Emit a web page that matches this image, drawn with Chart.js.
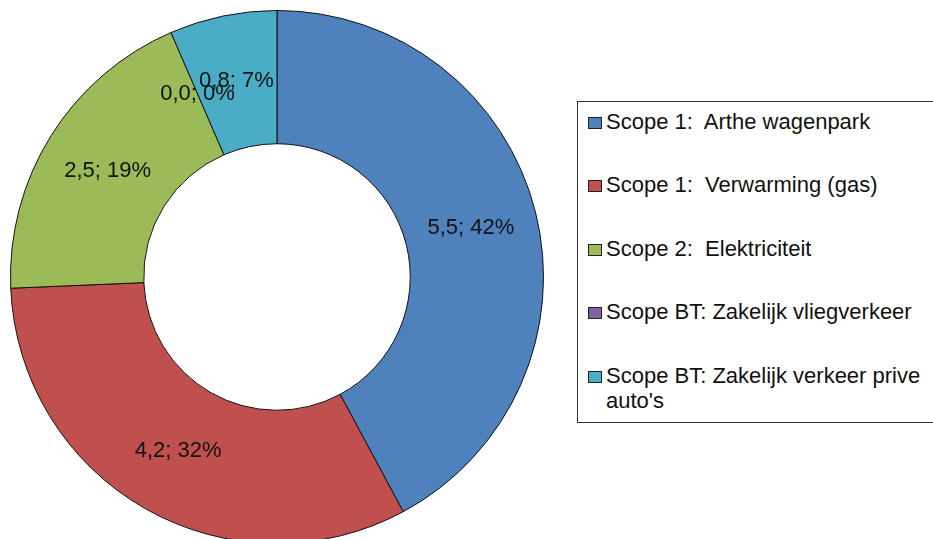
<!DOCTYPE html>
<html>
<head>
<meta charset="utf-8">
<script src="https://cdn.jsdelivr.net/npm/chart.js@4/dist/chart.umd.min.js"></script>
<style>
    body { margin: 0; background: #fff; overflow: hidden; width: 933px; height: 539px; position: relative; }
    #chartWrap { position: absolute; left: 0; top: 0; width: 554px; height: 554px; }
    #legend {
        position: absolute; left: 577px; top: 101px; width: 370px; height: 322px;
        border: 1px solid #333; box-sizing: border-box;
        font-family: 'Liberation Sans', Arial, sans-serif; font-size: 22px; color: #111;
    }
    .item { position: absolute; left: 9px; line-height: 25px; width: 345px; }
    .box { position: absolute; left: 1px; top: 8px; width: 12px; height: 10px; border: 1px solid #222; }
    .txt { margin-left: 19px; white-space: pre; }
</style>
</head>
<body>
<div id="chartWrap"><canvas id="emissionChart" width="554" height="554"></canvas></div>
<div id="legend"></div>
<script>
const categories = [
    'Scope 1:  Arthe wagenpark',
    'Scope 1:  Verwarming (gas)',
    'Scope 2:  Elektriciteit',
    'Scope BT: Zakelijk vliegverkeer',
    'Scope BT: Zakelijk verkeer prive\nauto\'s'
];
const values = [5.5, 4.2, 2.5, 0.0, 0.85];
const percents = [42, 32, 19, 0, 7];
const colors = ['#4F81BD', '#C0504D', '#9BBB59', '#8064A2', '#4BACC6'];

// labels in the middle of the ring, like "5,5; 42%"
const sliceLabels = {
    id: 'sliceLabels',
    afterDatasetsDraw(chart) {
        const ctx = chart.ctx;
        const meta = chart.getDatasetMeta(0);
        ctx.save();
        ctx.font = '22px "Liberation Sans", Arial, sans-serif';
        ctx.fillStyle = '#111';
        ctx.textAlign = 'center';
        ctx.textBaseline = 'middle';
        meta.data.forEach((arc, i) => {
            const p = arc.getProps(['x', 'y', 'startAngle', 'endAngle', 'innerRadius', 'outerRadius'], true);
            const mid = (p.startAngle + p.endAngle) / 2;
            const r = (p.innerRadius + p.outerRadius) / 2;
            const text = values[i].toFixed(1).replace('.', ',') + '; ' + percents[i] + '%';
            ctx.fillText(text, p.x + Math.cos(mid) * r, p.y + Math.sin(mid) * r);
        });
        ctx.restore();
    }
};

const emissionChart = new Chart(document.getElementById('emissionChart').getContext('2d'), {
    type: 'doughnut',
    data: {
        labels: categories,
        datasets: [{
            data: values,
            backgroundColor: colors,
            borderColor: '#111',
            borderWidth: 1
        }]
    },
    options: {
        responsive: false,
        animation: false,
        cutout: '50%',
        layout: { padding: 10 },
        plugins: {
            legend: { display: false },
            tooltip: { enabled: false }
        }
    },
    plugins: [sliceLabels]
});

// html legend built from the chart data
const legendEl = document.getElementById('legend');
const itemTops = [7, 70, 134, 197, 261];
emissionChart.data.labels.forEach((label, i) => {
    const item = document.createElement('div');
    item.className = 'item';
    item.style.top = itemTops[i] + 'px';
    item.innerHTML = `<span class="box" style="background:${colors[i]}"></span><div class="txt"></div>`;
    item.querySelector('.txt').textContent = label;
    legendEl.appendChild(item);
});
</script>
</body>
</html>
